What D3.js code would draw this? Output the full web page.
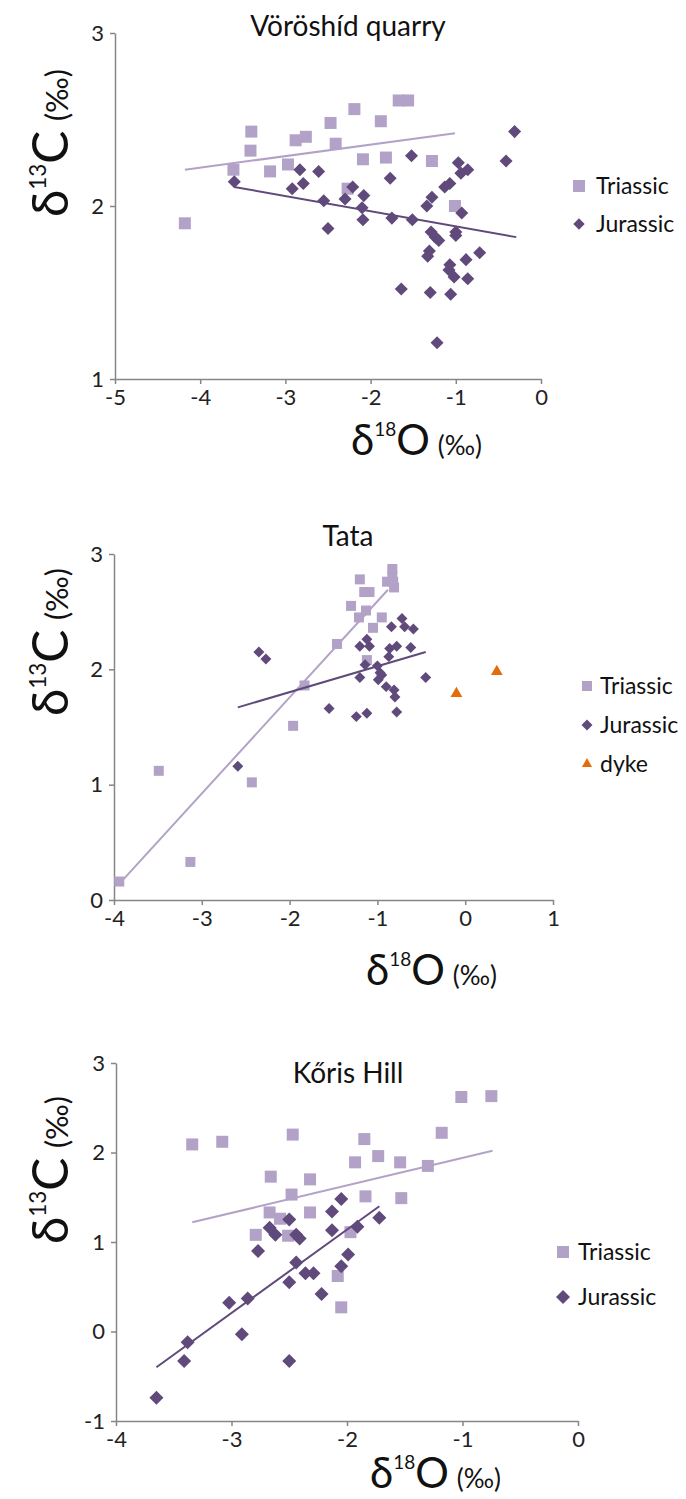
<!DOCTYPE html>
<html>
<head>
<meta charset="utf-8">
<script src="https://cdn.jsdelivr.net/npm/d3@7"></script>
<style>
  body { margin: 0; background: #fff; }
  svg { display: block; font-family: Lato, sans-serif; }
</style>
</head>
<body>
<svg id="chart"></svg>
<script>
// values: [d18O, d13C]
const vorosTriassic = [[-4.18,1.90],[-3.40,2.43],[-3.41,2.32],[-3.61,2.21],[-3.18,2.20],[-2.97,2.24],[-2.88,2.38],[-2.76,2.40],[-2.47,2.48],[-2.41,2.36],[-2.19,2.56],[-2.27,2.10],[-2.09,2.27],[-1.88,2.49],[-1.82,2.28],[-1.67,2.61],[-1.56,2.61],[-1.28,2.26],[-1.01,2.00]];
const vorosJurassic = [[-3.60,2.14],[-2.83,2.21],[-2.61,2.20],[-2.92,2.10],[-2.79,2.13],[-1.52,2.29],[-1.77,2.16],[-2.21,2.11],[-2.08,2.06],[-2.30,2.04],[-2.55,2.03],[-2.10,1.99],[-0.97,2.25],[-0.94,2.19],[-0.86,2.21],[-1.13,2.11],[-1.07,2.13],[-1.28,2.05],[-1.34,2.00],[-0.93,1.96],[-0.31,2.43],[-0.41,2.26],[-2.09,1.92],[-2.50,1.87],[-1.75,1.93],[-1.51,1.92],[-1.29,1.85],[-1.24,1.82],[-1.20,1.80],[-1.00,1.85],[-1.00,1.83],[-1.31,1.74],[-1.33,1.71],[-0.72,1.73],[-0.88,1.69],[-1.07,1.66],[-1.08,1.63],[-1.02,1.59],[-0.86,1.58],[-1.64,1.52],[-1.30,1.50],[-1.06,1.49],[-1.22,1.21]];
const vorosTriassicTrend = [[-4.18,2.21],[-1.01,2.42]];
const vorosJurassicTrend = [[-3.60,2.11],[-0.29,1.82]];
const vorosXTicks = [-5,-4,-3,-2,-1,0];
const vorosYTicks = [1,2,3];

const tataTriassic = [[-0.83,2.87],[-0.83,2.81],[-0.89,2.76],[-0.82,2.76],[-0.81,2.71],[-1.20,2.78],[-1.15,2.67],[-1.09,2.67],[-1.30,2.55],[-1.13,2.51],[-1.21,2.45],[-0.95,2.45],[-1.05,2.36],[-1.46,2.22],[-1.12,2.08],[-1.83,1.86],[-1.96,1.51],[-3.49,1.12],[-2.43,1.02],[-3.13,0.33],[-3.94,0.16]];
const tataJurassic = [[-2.35,2.15],[-2.27,2.09],[-0.72,2.44],[-0.84,2.37],[-0.69,2.37],[-0.59,2.35],[-1.20,2.20],[-1.12,2.26],[-1.09,2.20],[-0.86,2.18],[-0.78,2.20],[-0.62,2.19],[-0.87,2.11],[-1.14,2.04],[-1.00,2.03],[-0.97,1.97],[-0.95,1.95],[-1.20,1.93],[-0.99,1.91],[-0.45,1.93],[-0.90,1.85],[-0.81,1.82],[-0.80,1.76],[-1.55,1.66],[-1.12,1.62],[-1.24,1.59],[-0.78,1.63],[-2.59,1.16]];
const tataDyke = [[-0.10,1.79],[0.36,1.98]];
const tataTriassicTrend = [[-3.94,0.14],[-0.88,2.69]];
const tataJurassicTrend = [[-2.59,1.67],[-0.45,2.15]];
const tataXTicks = [-4,-3,-2,-1,0,1];
const tataYTicks = [0,1,2,3];

const korisTriassic = [[-3.34,2.09],[-3.08,2.12],[-2.47,2.20],[-1.85,2.15],[-1.18,2.22],[-1.01,2.62],[-0.75,2.63],[-1.93,1.89],[-1.73,1.96],[-1.54,1.89],[-1.30,1.85],[-2.66,1.73],[-2.32,1.70],[-2.48,1.53],[-1.84,1.51],[-1.53,1.49],[-2.67,1.33],[-2.32,1.33],[-2.58,1.26],[-2.79,1.08],[-2.51,1.07],[-1.97,1.11],[-2.08,0.62],[-2.05,0.27]];
const korisJurassic = [[-2.05,1.48],[-2.13,1.34],[-2.50,1.25],[-1.72,1.27],[-2.67,1.16],[-2.62,1.08],[-2.44,1.08],[-2.41,1.04],[-2.13,1.13],[-1.91,1.17],[-2.77,0.90],[-1.99,0.86],[-2.44,0.77],[-2.05,0.73],[-2.36,0.65],[-2.29,0.65],[-2.50,0.55],[-2.22,0.42],[-3.02,0.32],[-2.86,0.37],[-2.91,-0.03],[-3.38,-0.12],[-3.41,-0.33],[-2.50,-0.33],[-3.65,-0.74]];
const korisTriassicTrend = [[-3.34,1.22],[-0.74,2.02]];
const korisJurassicTrend = [[-3.65,-0.40],[-1.72,1.40]];
const korisXTicks = [-4,-3,-2,-1,0];
const korisYTicks = [-1,0,1,2,3];

const colTri = '#b3a2c7';
const colJur = '#604a7b';
const colDyke = '#e46c0a';
const axisCol = '#868686';

const svg = d3.select('#chart')
    .attr('width', 686)
    .attr('height', 1499);

function marker(shape, size) {
    if (shape === 'triangle') return d3.symbol(d3.symbolTriangle, size)();
    return d3.symbol(d3.symbolSquare, size)();
}

// big delta + superscript mass number + element + (permil)
function isoLabel(sel, mass, elem, k) {
    sel.append('tspan').attr('font-size', 42 * k).text('δ');
    sel.append('tspan').attr('font-size', 19 * k).attr('dy', -19 * k).text(mass);
    sel.append('tspan').attr('font-size', 42 * k).attr('dy', 19 * k).text(elem);
    sel.append('tspan').attr('font-size', 26 * k).attr('dx', 8 * k).text('(‰)');
}

function drawPanel(cfg) {
    const g = svg.append('g');

    const x = d3.scaleLinear().domain(cfg.xDomain).range([cfg.left, cfg.right]);
    const y = d3.scaleLinear().domain(cfg.yDomain).range([cfg.bottom, cfg.top]);

    g.append('text')
        .attr('x', 348)
        .attr('y', cfg.titleY)
        .attr('text-anchor', 'middle')
        .attr('font-size', 28)
        .attr('fill', '#111')
        .text(cfg.title);

    const xaxis = d3.axisBottom(x).tickValues(cfg.xTicks).tickFormat(d => d.toString())
        .tickSize(5).tickSizeOuter(0).tickPadding(5);
    const yaxis = d3.axisLeft(y).tickValues(cfg.yTicks).tickFormat(d => d.toString())
        .tickSize(5).tickSizeOuter(0).tickPadding(6);

    const xg = g.append('g')
        .attr('transform', `translate(0, ${cfg.bottom})`)
        .call(xaxis);
    const yg = g.append('g')
        .attr('transform', `translate(${cfg.left}, 0)`)
        .call(yaxis);

    [xg, yg].forEach(a => {
        a.select('.domain').attr('stroke', axisCol).attr('stroke-width', 1.5);
        a.selectAll('.tick line').attr('stroke', axisCol).attr('stroke-width', 1.5);
        a.selectAll('.tick text').attr('fill', '#222').attr('font-size', 22)
            .attr('font-family', 'Lato, sans-serif');
    });

    cfg.series.forEach(s => {
        g.append('g').selectAll('path')
            .data(s.data)
            .enter()
            .append('path')
            .attr('d', marker(s.shape, s.size))
            .attr('transform', d => `translate(${x(d[0])}, ${y(d[1])})` + (s.shape === 'diamond' ? ' rotate(45)' : ''))
            .attr('fill', s.color);
    });

    const line = d3.line().x(d => x(d[0])).y(d => y(d[1]));
    cfg.trends.forEach(t => {
        g.append('path')
            .attr('d', line(t.data))
            .attr('fill', 'none')
            .attr('stroke', t.color)
            .attr('stroke-width', 2);
    });

    // legend
    cfg.series.forEach((s, i) => {
        const ly = cfg.legend.y + i * cfg.legend.gap;
        g.append('path')
            .attr('d', marker(s.shape, s.legendSize))
            .attr('transform', `translate(${cfg.legend.x}, ${ly})` + (s.shape === 'diamond' ? ' rotate(45)' : ''))
            .attr('fill', s.color);
        g.append('text')
            .attr('x', cfg.legend.x + cfg.legend.dx)
            .attr('y', ly + 8)
            .attr('font-size', 23)
            .attr('fill', '#111')
            .text(s.name);
    });

    const xt = g.append('text')
        .attr('x', cfg.xLabel.x)
        .attr('y', cfg.xLabel.y)
        .attr('fill', '#111');
    isoLabel(xt, '18', 'O', 1);

    const yt = g.append('text')
        .attr('transform', `translate(${cfg.yLabel.x}, ${cfg.yLabel.y}) rotate(-90)`)
        .attr('text-anchor', 'middle')
        .attr('fill', '#111');
    isoLabel(yt, '13', 'C', 1.18);
}

drawPanel({
    title: 'Vöröshíd quarry', titleY: 36,
    left: 115, right: 541, top: 33, bottom: 379,
    xDomain: [-5, 0], yDomain: [1, 3],
    xTicks: vorosXTicks, yTicks: vorosYTicks,
    series: [
        { name: 'Triassic', data: vorosTriassic, shape: 'square', size: 144, legendSize: 144, color: colTri },
        { name: 'Jurassic', data: vorosJurassic, shape: 'diamond', size: 85, legendSize: 64, color: colJur }
    ],
    trends: [
        { data: vorosTriassicTrend, color: colTri },
        { data: vorosJurassicTrend, color: colJur }
    ],
    legend: { x: 579, y: 186, gap: 38, dx: 17 },
    xLabel: { x: 351, y: 455 },
    yLabel: { x: 68, y: 143 }
});

drawPanel({
    title: 'Tata', titleY: 546,
    left: 114, right: 553, top: 554, bottom: 900,
    xDomain: [-4, 1], yDomain: [0, 3],
    xTicks: tataXTicks, yTicks: tataYTicks,
    series: [
        { name: 'Triassic', data: tataTriassic, shape: 'square', size: 100, legendSize: 100, color: colTri },
        { name: 'Jurassic', data: tataJurassic, shape: 'diamond', size: 60, legendSize: 60, color: colJur },
        { name: 'dyke', data: tataDyke, shape: 'triangle', size: 60, legendSize: 45, color: colDyke }
    ],
    trends: [
        { data: tataTriassicTrend, color: colTri },
        { data: tataJurassicTrend, color: colJur }
    ],
    legend: { x: 587, y: 686, gap: 39, dx: 13 },
    xLabel: { x: 366, y: 985 },
    yLabel: { x: 68, y: 642 }
});

drawPanel({
    title: 'Kőris Hill', titleY: 1083,
    left: 116, right: 578, top: 1063, bottom: 1421,
    xDomain: [-4, 0], yDomain: [-1, 3],
    xTicks: korisXTicks, yTicks: korisYTicks,
    series: [
        { name: 'Triassic', data: korisTriassic, shape: 'square', size: 144, legendSize: 144, color: colTri },
        { name: 'Jurassic', data: korisJurassic, shape: 'diamond', size: 98, legendSize: 98, color: colJur }
    ],
    trends: [
        { data: korisTriassicTrend, color: colTri },
        { data: korisJurassicTrend, color: colJur }
    ],
    legend: { x: 563, y: 1252, gap: 45, dx: 15 },
    xLabel: { x: 370, y: 1488 },
    yLabel: { x: 68, y: 1170 }
});
</script>
</body>
</html>
